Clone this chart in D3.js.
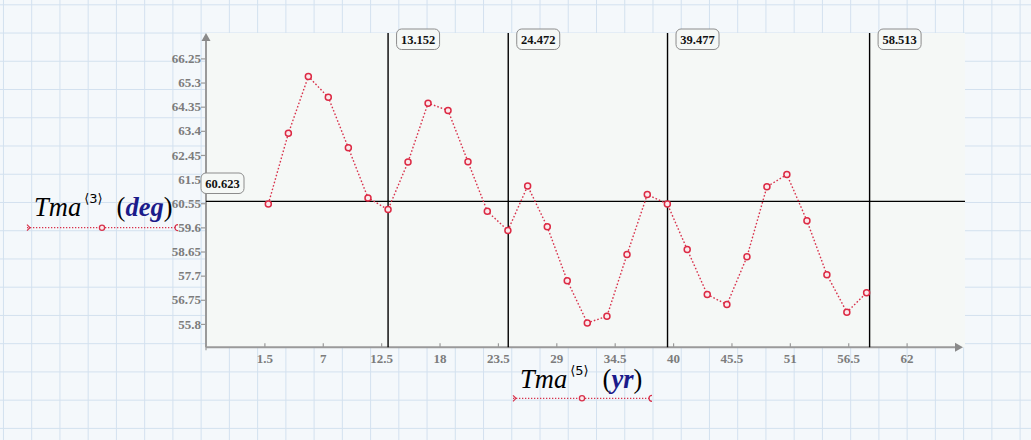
<!DOCTYPE html>
<html>
<head>
<meta charset="utf-8">
<script src="https://cdn.jsdelivr.net/npm/d3@7"></script>
<style>
  html, body { margin: 0; padding: 0; background: #f4f8fb; }
  svg { display: block; }
</style>
</head>
<body>
<svg id="chart" width="1031" height="440"></svg>
<script>
// ---- data ----
const years = [1.87, 3.76, 5.64, 7.52, 9.41, 11.26, 13.15, 15.03, 16.92, 18.80, 20.68,
  22.50, 24.44, 26.30, 28.15, 30.03, 31.92, 33.77, 35.66, 37.57, 39.46, 41.33, 43.22,
  45.07, 46.96, 48.84, 50.72, 52.61, 54.49, 56.37, 58.23];
const temps = [60.52, 63.30, 65.54, 64.72, 62.73, 60.76, 60.30, 62.17, 64.49, 64.20, 62.18,
  60.23, 59.48, 61.23, 59.62, 57.50, 55.84, 56.10, 58.53, 60.89, 60.52, 58.73, 56.96,
  56.56, 58.44, 61.20, 61.68, 59.86, 57.74, 56.26, 57.03];
const xTicks = [1.5, 7, 12.5, 18, 23.5, 29, 34.5, 40, 45.5, 51, 56.5, 62];
const yTicks = [55.8, 56.75, 57.7, 58.65, 59.6, 60.55, 61.5, 62.45, 63.4, 64.35, 65.3, 66.25];
const xMarkers = ["13.152", "24.472", "39.477", "58.513"];
const yMarker = "60.623";

const svg = d3.select("#chart");
const W = 1031, H = 440;

// ---- page grid ----
const grid = svg.append("g");
grid.append("rect").attr("width", W).attr("height", H).attr("fill", "#f4f8fb");
for (let gx = 31.7 - 28.24; gx < W; gx += 28.24) {
  grid.append("line").attr("x1", gx).attr("x2", gx).attr("y1", 0).attr("y2", H)
    .attr("stroke", "#d3e1ef").attr("stroke-width", 1);
}
for (let gy = 4.8; gy < H; gy += 28.24) {
  grid.append("line").attr("x1", 0).attr("x2", W).attr("y1", gy).attr("y2", gy)
    .attr("stroke", "#d3e1ef").attr("stroke-width", 1);
}

// ---- plot area ----
const L = 206, R = 965, T = 33, B = 347.3;
const x = d3.scaleLinear().domain([-4, 67.5]).range([L, R]);
const y = d3.scaleLinear().domain([54.88, 67.25]).range([B, T]);

svg.append("rect").attr("x", L).attr("y", T).attr("width", R - L).attr("height", B - T)
  .attr("fill", "#f5f8f6");

const axisColor = "#9a9a9a";
const tickFont = "'Liberation Serif', 'Times New Roman', serif";

// x axis
const gx = svg.append("g").attr("transform", `translate(0,${B})`)
  .call(d3.axisBottom(x).tickValues(xTicks).tickFormat(d => String(d))
    .tickSizeInner(-4).tickSizeOuter(0).tickPadding(6.5));
gx.select(".domain").remove();
gx.selectAll(".tick line").attr("stroke", axisColor).attr("stroke-width", 1.2);
gx.selectAll(".tick text").attr("fill", "#7c7c7c").attr("font-family", tickFont)
  .attr("font-weight", "bold").attr("font-size", 13);

// y axis
const gy = svg.append("g").attr("transform", `translate(${L},0)`)
  .call(d3.axisLeft(y).tickValues(yTicks).tickFormat(d => String(d))
    .tickSizeInner(5).tickSizeOuter(0).tickPadding(0));
gy.select(".domain").remove();
gy.selectAll(".tick line").attr("stroke", axisColor).attr("stroke-width", 1.2);
gy.selectAll(".tick text").attr("fill", "#7c7c7c").attr("font-family", tickFont)
  .attr("font-weight", "bold").attr("font-size", 13);

// axis lines with arrows
svg.append("line").attr("x1", L).attr("x2", 957).attr("y1", B).attr("y2", B)
  .attr("stroke", axisColor).attr("stroke-width", 2);
svg.append("path").attr("d", `M963,${B} L955,${B - 4.5} L955,${B + 4.5} Z`).attr("fill", "#8a8a8a");
svg.append("line").attr("x1", L).attr("x2", L).attr("y1", B).attr("y2", 40)
  .attr("stroke", axisColor).attr("stroke-width", 2);
svg.append("path").attr("d", `M${L},33 L${L - 4.5},41 L${L + 4.5},41 Z`).attr("fill", "#8a8a8a");
svg.append("line").attr("x1", L).attr("x2", L).attr("y1", B - 3).attr("y2", B + 3)
  .attr("stroke", axisColor).attr("stroke-width", 1.2);

// ---- marker lines ----
const yM = +yMarker;
svg.append("line").attr("x1", L).attr("x2", R).attr("y1", y(yM)).attr("y2", y(yM))
  .attr("stroke", "#000").attr("stroke-width", 1.4);
xMarkers.forEach(m => {
  svg.append("line").attr("x1", x(+m)).attr("x2", x(+m)).attr("y1", T).attr("y2", B)
    .attr("stroke", "#000").attr("stroke-width", 1.4);
});

// ---- data series ----
const pts = years.map((d, i) => [d, temps[i]]);
svg.append("path").datum(pts)
  .attr("d", d3.line().x(d => x(d[0])).y(d => y(d[1])))
  .attr("fill", "none").attr("stroke", "#d8324c").attr("stroke-width", 1.4)
  .attr("stroke-dasharray", "1.6,2");
svg.selectAll("circle.pt").data(pts).enter().append("circle").attr("class", "pt")
  .attr("cx", d => x(d[0])).attr("cy", d => y(d[1])).attr("r", 3)
  .attr("fill", "#fbeaec").attr("stroke", "#dc2a44").attr("stroke-width", 1.5);

// ---- marker labels ----
function labelBox(bx, by, text) {
  const g = svg.append("g");
  g.append("rect").attr("x", bx).attr("y", by).attr("width", 43).attr("height", 20.5)
    .attr("rx", 5).attr("ry", 5).attr("fill", "#f5f8f6").attr("stroke", "#8c8c8c").attr("stroke-width", 1);
  g.append("text").attr("x", bx + 21.5).attr("y", by + 14.5).attr("text-anchor", "middle")
    .attr("font-family", tickFont).attr("font-weight", "bold").attr("font-size", 12.5)
    .attr("fill", "#111").text(text);
}
xMarkers.forEach(m => labelBox(x(+m) + 8.5, 29, m));
labelBox(201, 173, yMarker);

// ---- axis titles (Mathcad style) ----
const mathFont = "'Liberation Serif', 'Times New Roman', serif";
function title(tx, ty, sup, unit) {
  const t = svg.append("text").attr("x", tx).attr("y", ty)
    .attr("font-family", mathFont).attr("font-size", 26.5).attr("fill", "#000");
  t.append("tspan").attr("font-style", "italic").text("Tma");
  t.append("tspan").attr("font-size", 13).attr("font-family", "'DejaVu Sans', sans-serif")
    .attr("dy", -13).attr("dx", 3).text(sup);
  t.append("tspan").attr("dy", 13).attr("dx", 14).text("(");
  t.append("tspan").attr("font-style", "italic").attr("font-weight", "bold").attr("fill", "#1b1b8a").text(unit);
  t.append("tspan").text(")");
}
title(34, 216, "\u27E83\u27E9", "deg");
title(520, 388, "\u27E85\u27E9", "yr");

// placeholder region lines
function placeholder(x1, x2, yy) {
  const g = svg.append("g");
  g.append("line").attr("x1", x1).attr("x2", x2).attr("y1", yy).attr("y2", yy)
    .attr("stroke", "#d8324c").attr("stroke-width", 1.3).attr("stroke-dasharray", "1.3,1.7");
  g.append("path").attr("d", `M${x1},${yy - 3} L${x1 + 3},${yy} L${x1},${yy + 3}`)
    .attr("fill", "none").attr("stroke", "#d8324c").attr("stroke-width", 1.2);
  g.append("path").attr("d", `M${x2 + 1},${yy - 3} A3,3 0 0 0 ${x2 + 1},${yy + 3}`)
    .attr("fill", "none").attr("stroke", "#d8324c").attr("stroke-width", 1.2);
  g.append("circle").attr("cx", (x1 + x2) / 2).attr("cy", yy).attr("r", 2.6)
    .attr("fill", "#fbeaec").attr("stroke", "#d8324c").attr("stroke-width", 1.3);
}
placeholder(27, 177, 227.7);
placeholder(513, 651, 398.3);
</script>
</body>
</html>
